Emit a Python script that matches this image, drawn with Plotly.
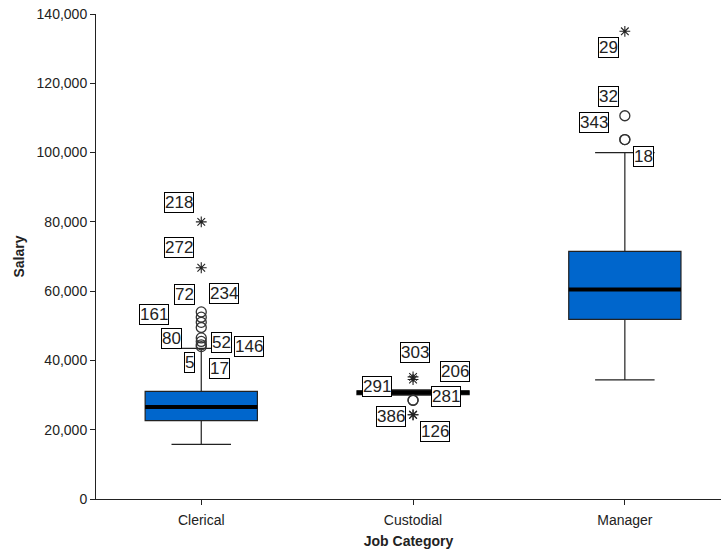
import plotly.graph_objects as go

# ---------------- data ----------------
categories = ["Clerical", "Custodial", "Manager"]
cat_pos = [0, 1, 2]
q1 = [22600, 30150, 51875]
median = [26550, 30750, 60500]
q3 = [31050, 31200, 71500]
lower_whisker = [15750, 30000, 34410]
upper_whisker = [43500, 31500, 100000]

# outliers (circles)
outlier_cat = [0, 0, 0, 0, 0, 0, 0, 0, 1, 1, 2, 2, 2]
outlier_val = [54000, 52500, 51000, 49500, 46500, 45500, 44500, 44000,
               28500, 28500, 110625, 103750, 103750]
outlier_id = ["234", "72", "161", "80", "52", "146", "5", "17",
              "291", "281", "32", "343", "18"]

# extreme values (stars)
extreme_cat = [0, 0, 1, 1, 1, 1, 2]
extreme_val = [80000, 66750, 35250, 34500, 24300, 24300, 135000]
extreme_id = ["218", "272", "303", "206", "386", "126", "29"]

y_ticks = [0, 20000, 40000, 60000, 80000, 100000, 120000, 140000]

# label offsets in pixels (style only)
label_shift = {
    "234": (23, 18), "72": (-17, 23), "161": (-47, 8), "80": (-30, -11),
    "52": (20, -5), "146": (48, -5), "5": (-12, -18), "17": (18, -22),
    "291": (-36, 14), "281": (33, 4), "32": (-16, 19), "343": (-31, 17),
    "18": (19, -17),
    "218": (-22, 19), "272": (-22, 20), "303": (2, 24), "206": (42, 8),
    "386": (-22, -2), "126": (22, -17), "29": (-16, -16),
}

BOX_W = 0.53
FILL = "#0066CC"
INK = "#222222"
FONT = "Liberation Sans, Arial, sans-serif"

fig = go.Figure()

fig.add_trace(go.Box(
    x=cat_pos, q1=q1, median=median, q3=q3,
    lowerfence=lower_whisker, upperfence=upper_whisker,
    width=BOX_W, whiskerwidth=0.53,
    fillcolor=FILL, line=dict(color=INK, width=1.2),
    boxpoints=False, showlegend=False, hoverinfo="skip",
))

# thick median lines
for c, m in zip(cat_pos, median):
    fig.add_trace(go.Scatter(
        x=[c - BOX_W / 2, c + BOX_W / 2], y=[m, m], mode="lines",
        line=dict(color="black", width=4), showlegend=False, hoverinfo="skip",
    ))

fig.add_trace(go.Scatter(
    x=outlier_cat, y=outlier_val, mode="markers",
    marker=dict(symbol="circle-open", size=10, color="#333333",
                line=dict(width=1.3, color="#333333")),
    showlegend=False, hoverinfo="skip",
))
fig.add_trace(go.Scatter(
    x=extreme_cat, y=extreme_val, mode="markers",
    marker=dict(symbol="asterisk-open", size=9, color="#222222",
                line=dict(width=1.1, color="#222222")),
    showlegend=False, hoverinfo="skip",
))

for cats, vals, ids in [(outlier_cat, outlier_val, outlier_id),
                        (extreme_cat, extreme_val, extreme_id)]:
    for c, v, i in zip(cats, vals, ids):
        dx, dy = label_shift[i]
        fig.add_annotation(
            x=c, y=v, text=i, showarrow=False, xshift=dx, yshift=dy,
            font=dict(family=FONT, size=17, color="#222222"),
            bgcolor="white", bordercolor="black", borderwidth=1, borderpad=0,
        )

fig.update_layout(
    width=721, height=554,
    margin=dict(l=96, r=0, t=14, b=55, autoexpand=False),
    paper_bgcolor="white", plot_bgcolor="white",
    font=dict(family=FONT, size=14, color=INK),
    showlegend=False,
)
fig.update_xaxes(
    range=[-0.497, 2.454], tickvals=cat_pos, ticktext=categories,
    showline=True, linecolor=INK, linewidth=1, ticks="outside", ticklen=5,
    tickcolor=INK, showgrid=False, zeroline=False, ticklabelstandoff=3,
    automargin=False,
    title=dict(text="<b>Job Category</b>", font=dict(size=14), standoff=9),
    tickfont=dict(size=14),
)
fig.update_yaxes(
    range=[0, 140000], tickvals=y_ticks, tickformat=",d",
    showline=True, linecolor=INK, linewidth=1, ticks="outside", ticklen=5,
    tickcolor=INK, showgrid=False, zeroline=False,
    automargin=False,
    title=dict(text="<b>Salary</b>", font=dict(size=14), standoff=8),
    tickfont=dict(size=14),
)

fig.write_html(
    "out.html",
    config={"displayModeBar": False},
    post_script="document.body.style.margin='0';document.body.style.overflow='hidden';",
)
